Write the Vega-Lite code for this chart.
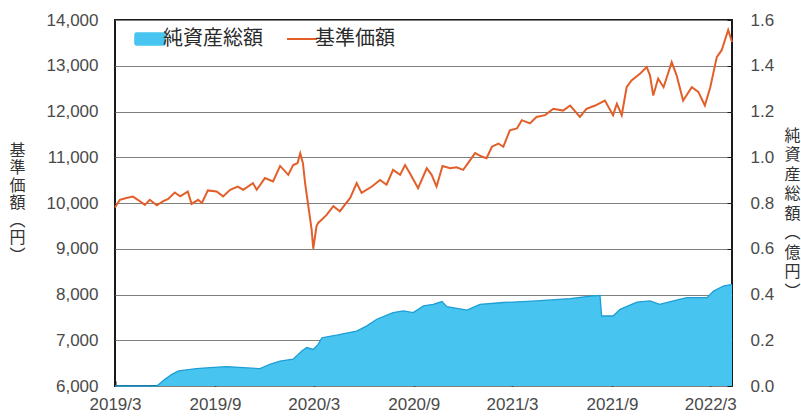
{
  "$schema": "https://vega.github.io/schema/vega-lite/v6.json",
  "width": 617,
  "height": 366,
  "autosize": {"type": "none"},
  "padding": {"left": 115, "top": 20, "right": 69, "bottom": 30},
  "background": "white",
  "config": {
    "view": {"stroke": "#1a1a1a", "strokeWidth": 2},
    "axis": {"labelFont": "Liberation Sans", "labelFontSize": 17, "labelColor": "#4a4a4a", "titleFont": "Noto Sans CJK JP", "titleFontWeight": "normal", "titleColor": "#333333"}
  },
  "datasets": {
    "nav": [
      {"date": "2019-03-19", "value": 9900, "series": "基準価額"},
      {"date": "2019-03-28", "value": 10070, "series": "基準価額"},
      {"date": "2019-04-09", "value": 10110, "series": "基準価額"},
      {"date": "2019-04-21", "value": 10140, "series": "基準価額"},
      {"date": "2019-04-30", "value": 10070, "series": "基準価額"},
      {"date": "2019-05-13", "value": 9960, "series": "基準価額"},
      {"date": "2019-05-22", "value": 10070, "series": "基準価額"},
      {"date": "2019-06-04", "value": 9950, "series": "基準価額"},
      {"date": "2019-06-15", "value": 10035, "series": "基準価額"},
      {"date": "2019-06-25", "value": 10090, "series": "基準価額"},
      {"date": "2019-07-07", "value": 10230, "series": "基準価額"},
      {"date": "2019-07-17", "value": 10145, "series": "基準価額"},
      {"date": "2019-07-31", "value": 10250, "series": "基準価額"},
      {"date": "2019-08-07", "value": 9980, "series": "基準価額"},
      {"date": "2019-08-19", "value": 10070, "series": "基準価額"},
      {"date": "2019-08-26", "value": 10000, "series": "基準価額"},
      {"date": "2019-09-06", "value": 10275, "series": "基準価額"},
      {"date": "2019-09-22", "value": 10250, "series": "基準価額"},
      {"date": "2019-10-04", "value": 10145, "series": "基準価額"},
      {"date": "2019-10-17", "value": 10290, "series": "基準価額"},
      {"date": "2019-10-31", "value": 10360, "series": "基準価額"},
      {"date": "2019-11-10", "value": 10290, "series": "基準価額"},
      {"date": "2019-11-28", "value": 10435, "series": "基準価額"},
      {"date": "2019-12-05", "value": 10290, "series": "基準価額"},
      {"date": "2019-12-20", "value": 10545, "series": "基準価額"},
      {"date": "2020-01-04", "value": 10470, "series": "基準価額"},
      {"date": "2020-01-17", "value": 10810, "series": "基準価額"},
      {"date": "2020-02-01", "value": 10615, "series": "基準価額"},
      {"date": "2020-02-10", "value": 10830, "series": "基準価額"},
      {"date": "2020-02-18", "value": 10870, "series": "基準価額"},
      {"date": "2020-02-23", "value": 11085, "series": "基準価額"},
      {"date": "2020-02-28", "value": 10870, "series": "基準価額"},
      {"date": "2020-03-03", "value": 10435, "series": "基準価額"},
      {"date": "2020-03-09", "value": 9930, "series": "基準価額"},
      {"date": "2020-03-15", "value": 9420, "series": "基準価額"},
      {"date": "2020-03-18", "value": 9000, "series": "基準価額"},
      {"date": "2020-03-24", "value": 9490, "series": "基準価額"},
      {"date": "2020-03-27", "value": 9565, "series": "基準価額"},
      {"date": "2020-04-03", "value": 9640, "series": "基準価額"},
      {"date": "2020-04-12", "value": 9745, "series": "基準価額"},
      {"date": "2020-04-24", "value": 9930, "series": "基準価額"},
      {"date": "2020-05-06", "value": 9820, "series": "基準価額"},
      {"date": "2020-05-25", "value": 10110, "series": "基準価額"},
      {"date": "2020-06-06", "value": 10435, "series": "基準価額"},
      {"date": "2020-06-15", "value": 10220, "series": "基準価額"},
      {"date": "2020-07-04", "value": 10360, "series": "基準価額"},
      {"date": "2020-07-19", "value": 10505, "series": "基準価額"},
      {"date": "2020-07-31", "value": 10400, "series": "基準価額"},
      {"date": "2020-08-12", "value": 10725, "series": "基準価額"},
      {"date": "2020-08-25", "value": 10615, "series": "基準価額"},
      {"date": "2020-09-03", "value": 10830, "series": "基準価額"},
      {"date": "2020-09-12", "value": 10650, "series": "基準価額"},
      {"date": "2020-09-27", "value": 10325, "series": "基準価額"},
      {"date": "2020-10-13", "value": 10760, "series": "基準価額"},
      {"date": "2020-10-22", "value": 10615, "series": "基準価額"},
      {"date": "2020-10-31", "value": 10360, "series": "基準価額"},
      {"date": "2020-11-11", "value": 10810, "series": "基準価額"},
      {"date": "2020-11-25", "value": 10760, "series": "基準価額"},
      {"date": "2020-12-07", "value": 10780, "series": "基準価額"},
      {"date": "2020-12-19", "value": 10725, "series": "基準価額"},
      {"date": "2020-12-28", "value": 10870, "series": "基準価額"},
      {"date": "2021-01-10", "value": 11090, "series": "基準価額"},
      {"date": "2021-01-22", "value": 11015, "series": "基準価額"},
      {"date": "2021-01-31", "value": 10980, "series": "基準価額"},
      {"date": "2021-02-10", "value": 11230, "series": "基準価額"},
      {"date": "2021-02-22", "value": 11300, "series": "基準価額"},
      {"date": "2021-03-03", "value": 11230, "series": "基準価額"},
      {"date": "2021-03-15", "value": 11590, "series": "基準価額"},
      {"date": "2021-03-28", "value": 11630, "series": "基準価額"},
      {"date": "2021-04-06", "value": 11810, "series": "基準価額"},
      {"date": "2021-04-21", "value": 11740, "series": "基準価額"},
      {"date": "2021-05-03", "value": 11880, "series": "基準価額"},
      {"date": "2021-05-19", "value": 11920, "series": "基準価額"},
      {"date": "2021-06-03", "value": 12060, "series": "基準価額"},
      {"date": "2021-06-21", "value": 12020, "series": "基準価額"},
      {"date": "2021-07-04", "value": 12130, "series": "基準価額"},
      {"date": "2021-07-22", "value": 11880, "series": "基準価額"},
      {"date": "2021-08-03", "value": 12060, "series": "基準価額"},
      {"date": "2021-08-19", "value": 12130, "series": "基準価額"},
      {"date": "2021-09-06", "value": 12240, "series": "基準価額"},
      {"date": "2021-09-21", "value": 11920, "series": "基準価額"},
      {"date": "2021-09-28", "value": 12170, "series": "基準価額"},
      {"date": "2021-10-07", "value": 11920, "series": "基準価額"},
      {"date": "2021-10-16", "value": 12530, "series": "基準価額"},
      {"date": "2021-10-25", "value": 12680, "series": "基準価額"},
      {"date": "2021-11-10", "value": 12830, "series": "基準価額"},
      {"date": "2021-11-22", "value": 12970, "series": "基準価額"},
      {"date": "2021-11-28", "value": 12790, "series": "基準価額"},
      {"date": "2021-12-04", "value": 12350, "series": "基準価額"},
      {"date": "2021-12-13", "value": 12720, "series": "基準価額"},
      {"date": "2021-12-23", "value": 12530, "series": "基準価額"},
      {"date": "2022-01-07", "value": 13080, "series": "基準価額"},
      {"date": "2022-01-16", "value": 12790, "series": "基準価額"},
      {"date": "2022-01-28", "value": 12240, "series": "基準価額"},
      {"date": "2022-02-13", "value": 12530, "series": "基準価額"},
      {"date": "2022-02-25", "value": 12430, "series": "基準価額"},
      {"date": "2022-03-09", "value": 12130, "series": "基準価額"},
      {"date": "2022-03-19", "value": 12530, "series": "基準価額"},
      {"date": "2022-03-31", "value": 13190, "series": "基準価額"},
      {"date": "2022-04-09", "value": 13340, "series": "基準価額"},
      {"date": "2022-04-21", "value": 13780, "series": "基準価額"},
      {"date": "2022-04-28", "value": 13520, "series": "基準価額"}
    ],
    "assets": [
      {"date": "2019-03-19", "value": 0, "series": "純資産総額"},
      {"date": "2019-06-04", "value": 0, "series": "純資産総額"},
      {"date": "2019-06-19", "value": 0.029, "series": "純資産総額"},
      {"date": "2019-07-01", "value": 0.05, "series": "純資産総額"},
      {"date": "2019-07-14", "value": 0.066, "series": "純資産総額"},
      {"date": "2019-08-16", "value": 0.076, "series": "純資産総額"},
      {"date": "2019-09-10", "value": 0.08, "series": "純資産総額"},
      {"date": "2019-10-11", "value": 0.085, "series": "純資産総額"},
      {"date": "2019-11-10", "value": 0.08, "series": "純資産総額"},
      {"date": "2019-12-11", "value": 0.076, "series": "純資産総額"},
      {"date": "2019-12-29", "value": 0.095, "series": "純資産総額"},
      {"date": "2020-01-17", "value": 0.109, "series": "純資産総額"},
      {"date": "2020-02-10", "value": 0.117, "series": "純資産総額"},
      {"date": "2020-02-26", "value": 0.153, "series": "純資産総額"},
      {"date": "2020-03-06", "value": 0.168, "series": "純資産総額"},
      {"date": "2020-03-18", "value": 0.16, "series": "純資産総額"},
      {"date": "2020-03-27", "value": 0.182, "series": "純資産総額"},
      {"date": "2020-04-03", "value": 0.211, "series": "純資産総額"},
      {"date": "2020-04-30", "value": 0.222, "series": "純資産総額"},
      {"date": "2020-06-06", "value": 0.24, "series": "純資産総額"},
      {"date": "2020-06-24", "value": 0.262, "series": "純資産総額"},
      {"date": "2020-07-13", "value": 0.292, "series": "純資産総額"},
      {"date": "2020-08-12", "value": 0.321, "series": "純資産総額"},
      {"date": "2020-08-31", "value": 0.328, "series": "純資産総額"},
      {"date": "2020-09-18", "value": 0.321, "series": "純資産総額"},
      {"date": "2020-10-07", "value": 0.35, "series": "純資産総額"},
      {"date": "2020-10-25", "value": 0.357, "series": "純資産総額"},
      {"date": "2020-11-10", "value": 0.369, "series": "純資産総額"},
      {"date": "2020-11-19", "value": 0.347, "series": "純資産総額"},
      {"date": "2020-12-26", "value": 0.332, "series": "純資産総額"},
      {"date": "2021-01-19", "value": 0.357, "series": "純資産総額"},
      {"date": "2021-03-03", "value": 0.365, "series": "純資産総額"},
      {"date": "2021-05-03", "value": 0.372, "series": "純資産総額"},
      {"date": "2021-07-04", "value": 0.382, "series": "純資産総額"},
      {"date": "2021-08-10", "value": 0.393, "series": "純資産総額"},
      {"date": "2021-08-28", "value": 0.396, "series": "純資産総額"},
      {"date": "2021-08-31", "value": 0.306, "series": "純資産総額"},
      {"date": "2021-09-21", "value": 0.306, "series": "純資産総額"},
      {"date": "2021-10-04", "value": 0.335, "series": "純資産総額"},
      {"date": "2021-11-04", "value": 0.367, "series": "純資産総額"},
      {"date": "2021-11-28", "value": 0.372, "series": "純資産総額"},
      {"date": "2021-12-16", "value": 0.357, "series": "純資産総額"},
      {"date": "2022-01-10", "value": 0.372, "series": "純資産総額"},
      {"date": "2022-02-04", "value": 0.386, "series": "純資産総額"},
      {"date": "2022-03-13", "value": 0.386, "series": "純資産総額"},
      {"date": "2022-03-25", "value": 0.415, "series": "純資産総額"},
      {"date": "2022-04-12", "value": 0.437, "series": "純資産総額"},
      {"date": "2022-04-28", "value": 0.444, "series": "純資産総額"}
    ]
  },
  "encoding": {
    "x": {
      "field": "date",
      "type": "temporal",
      "scale": {"type": "utc", "domain": [{"year": 2019, "month": 3, "date": 19, "utc": true}, {"year": 2022, "month": 4, "date": 28, "utc": true}]},
      "axis": {
        "title": null,
        "values": [
          {"year": 2019, "month": 3, "date": 19, "utc": true},
          {"year": 2019, "month": 9, "date": 19, "utc": true},
          {"year": 2020, "month": 3, "date": 19, "utc": true},
          {"year": 2020, "month": 9, "date": 19, "utc": true},
          {"year": 2021, "month": 3, "date": 19, "utc": true},
          {"year": 2021, "month": 9, "date": 19, "utc": true},
          {"year": 2022, "month": 3, "date": 19, "utc": true}
        ],
        "format": "%Y/%-m",
        "labelFlush": false,
        "grid": false,
        "domain": false,
        "tickSize": -5,
        "tickWidth": 2,
        "tickColor": "#1a1a1a",
        "labelPadding": 15
      }
    }
  },
  "layer": [
    {
      "data": {"name": "assets"},
      "encoding": {
        "y": {
          "field": "value",
          "type": "quantitative",
          "scale": {"domain": [0, 1.6], "nice": false, "zero": true},
          "axis": {
            "orient": "right",
            "values": [0, 0.2, 0.4, 0.6, 0.8, 1.0, 1.2, 1.4, 1.6],
            "format": ".1f",
            "grid": false,
            "domain": false,
            "tickSize": -5,
            "tickColor": "#1a1a1a",
            "labelPadding": 23,
            "title": ["純", "資", "産", "総", "額", "︵", "億", "円", "︶"],
            "titleAngle": 0,
            "titleAlign": "center",
            "titleBaseline": "middle",
            "titleX": 60,
            "titleY": 115,
            "titleFontSize": 16,
            "titleLineHeight": 19.5
          }
        }
      },
      "layer": [
        {
          "mark": {"type": "area", "opacity": 1, "interpolate": "linear"},
          "encoding": {
            "color": {
              "field": "series",
              "type": "nominal",
              "scale": {"domain": ["純資産総額", "基準価額"], "range": ["#47c5f0", "#e35f2a"]},
              "legend": {
                "title": null,
                "orient": "none",
                "legendX": 25,
                "legendY": 9,
                "direction": "horizontal",
                "labelFont": "Noto Sans CJK JP",
                "labelFontSize": 20,
                "labelColor": "#2a2a2a",
                "labelOffset": 3,
                "columnPadding": 20,
                "symbolSize": 900,
                "symbolOpacity": 1,
                "symbolType": "M-0.9,-0.4L0.9,-0.4Q1,-0.4 1,-0.3L1,0.3Q1,0.4 0.9,0.4L-0.9,0.4Q-1,0.4 -1,0.3L-1,-0.3Q-1,-0.4 -0.9,-0.4Z",
                "encode": {
                  "symbols": {
                    "update": {
                      "shape": {"signal": "datum.label == '基準価額' ? 'stroke' : 'M-0.9,-0.4L0.9,-0.4Q1,-0.4 1,-0.3L1,0.3Q1,0.4 0.9,0.4L-0.9,0.4Q-1,0.4 -1,0.3L-1,-0.3Q-1,-0.4 -0.9,-0.4Z'"},
                      "fill": {"signal": "datum.label == '基準価額' ? 'transparent' : '#47c5f0'"},
                      "stroke": {"signal": "datum.label == '基準価額' ? '#e35f2a' : '#1c9ed6'"},
                      "strokeWidth": {"signal": "datum.label == '基準価額' ? 2 : 1.5"}
                    }
                  }
                }
              }
            }
          }
        },
        {
          "mark": {"type": "line", "color": "#1c9ed6", "strokeWidth": 1.3},
          "encoding": {}
        }
      ]
    },
    {
      "data": {"name": "nav"},
      "mark": {"type": "line", "strokeWidth": 2},
      "encoding": {
        "y": {
          "field": "value",
          "type": "quantitative",
          "scale": {"domain": [6000, 14000], "nice": false, "zero": false},
          "axis": {
            "orient": "left",
            "values": [6000, 7000, 8000, 9000, 10000, 11000, 12000, 13000, 14000],
            "format": ",.0f",
            "grid": true,
            "gridColor": "#7f7f7f",
            "gridWidth": 1,
            "ticks": false,
            "domain": false,
            "labelPadding": 17,
            "title": ["基", "準", "価", "額", "︵", "円", "︶"],
            "titleAngle": 0,
            "titleAlign": "center",
            "titleBaseline": "middle",
            "titleX": -98,
            "titleY": 130,
            "titleFontSize": 16,
            "titleLineHeight": 17.5
          }
        },
        "color": {
          "field": "series",
          "type": "nominal",
          "legend": {
            "title": null,
            "orient": "none",
            "legendX": 25,
            "legendY": 9,
            "direction": "horizontal",
            "labelFont": "Noto Sans CJK JP",
            "labelFontSize": 20,
            "labelColor": "#2a2a2a",
            "labelOffset": 3,
            "columnPadding": 20,
            "symbolSize": 900,
            "symbolOpacity": 1,
            "symbolType": "M-0.9,-0.4L0.9,-0.4Q1,-0.4 1,-0.3L1,0.3Q1,0.4 0.9,0.4L-0.9,0.4Q-1,0.4 -1,0.3L-1,-0.3Q-1,-0.4 -0.9,-0.4Z",
            "encode": {
              "symbols": {
                "update": {
                  "shape": {"signal": "datum.label == '基準価額' ? 'stroke' : 'M-0.9,-0.4L0.9,-0.4Q1,-0.4 1,-0.3L1,0.3Q1,0.4 0.9,0.4L-0.9,0.4Q-1,0.4 -1,0.3L-1,-0.3Q-1,-0.4 -0.9,-0.4Z'"},
                  "fill": {"signal": "datum.label == '基準価額' ? 'transparent' : '#47c5f0'"},
                  "stroke": {"signal": "datum.label == '基準価額' ? '#e35f2a' : '#1c9ed6'"},
                  "strokeWidth": {"signal": "datum.label == '基準価額' ? 2 : 1.5"}
                }
              }
            }
          }
        }
      }
    }
  ],
  "resolve": {"scale": {"y": "independent"}}
}
